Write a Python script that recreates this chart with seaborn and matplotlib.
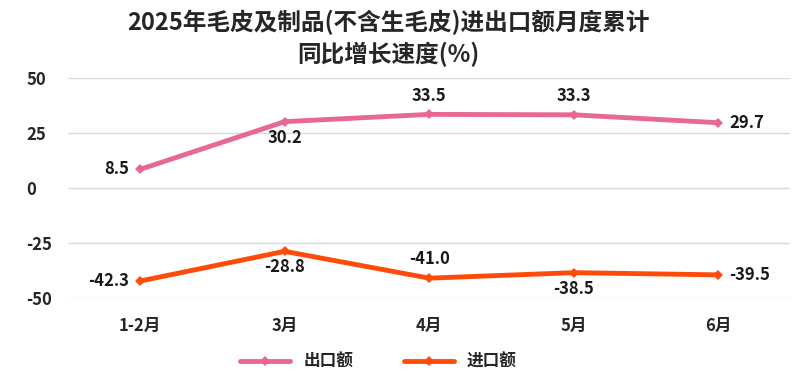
import seaborn as sns
import matplotlib.pyplot as plt
import pandas as pd

months = ["1-2月", "3月", "4月", "5月", "6月"]
export_vals = [8.5, 30.2, 33.5, 33.3, 29.7]
import_vals = [-42.3, -28.8, -41.0, -38.5, -39.5]
export_pos = ["left", "below", "above", "above", "right"]
import_pos = ["left", "below", "above", "below", "right"]

sns.set_theme(style="white")
plt.rcParams["font.family"] = ["Noto Sans CJK SC", "DejaVu Sans"]
plt.rcParams["axes.unicode_minus"] = False

df = pd.DataFrame({
    "month": months * 2,
    "value": export_vals + import_vals,
    "series": ["出口额"] * 5 + ["进口额"] * 5,
})
colors = {"出口额": "#E8698F", "进口额": "#FF4B0A"}

fig = plt.figure(figsize=(8, 3.81), dpi=100)
ax = fig.add_axes([0.085, 0.218, 0.903, 0.577])
sns.lineplot(data=df, x="month", y="value", hue="series", palette=colors,
             marker="D", markersize=5, markeredgewidth=0, linewidth=3.5,
             sort=False, ax=ax)

ax.set_xlim(-0.5, 4.5)
ax.set_ylim(-50, 50)
ax.set_yticks([-50, -25, 0, 25, 50])
ax.yaxis.grid(True, color="#d9d9d9", linewidth=1)
sns.despine(ax=ax, left=True, bottom=True)
ax.set_xlabel("")
ax.set_ylabel("")
ax.tick_params(axis="both", length=0, labelsize=12)
for t in ax.get_xticklabels() + ax.get_yticklabels():
    t.set_fontweight("bold")
ax.tick_params(axis="x", pad=14)
ax.tick_params(axis="y", pad=30)
for t in ax.get_yticklabels():
    t.set_horizontalalignment("left")

offsets = {"left": (-8, 0, "right", "center"), "right": (8, 0, "left", "center"),
           "above": (0, 7, "center", "bottom"), "below": (0, -5, "center", "top")}
for vals, poss in [(export_vals, export_pos), (import_vals, import_pos)]:
    for i, (v, p) in enumerate(zip(vals, poss)):
        dx, dy, ha, va = offsets[p]
        ax.annotate(f"{v:.1f}", (i, v), xytext=(dx, dy), textcoords="offset points",
                    ha=ha, va=va, fontsize=12, fontweight="bold", color="#1a1a1a")

fig.text(0.485, 0.9, "2025年毛皮及制品(不含生毛皮)进出口额月度累计\n同比增长速度(%)",
         ha="center", va="center", fontsize=17, fontweight="bold", linespacing=1.35)

ax.legend(loc="center", bbox_to_anchor=(0.43, -0.29), ncol=2, frameon=False,
          handlelength=3, columnspacing=3, prop={"weight": "bold", "size": 12})

fig.savefig("out.png", dpi=100)
